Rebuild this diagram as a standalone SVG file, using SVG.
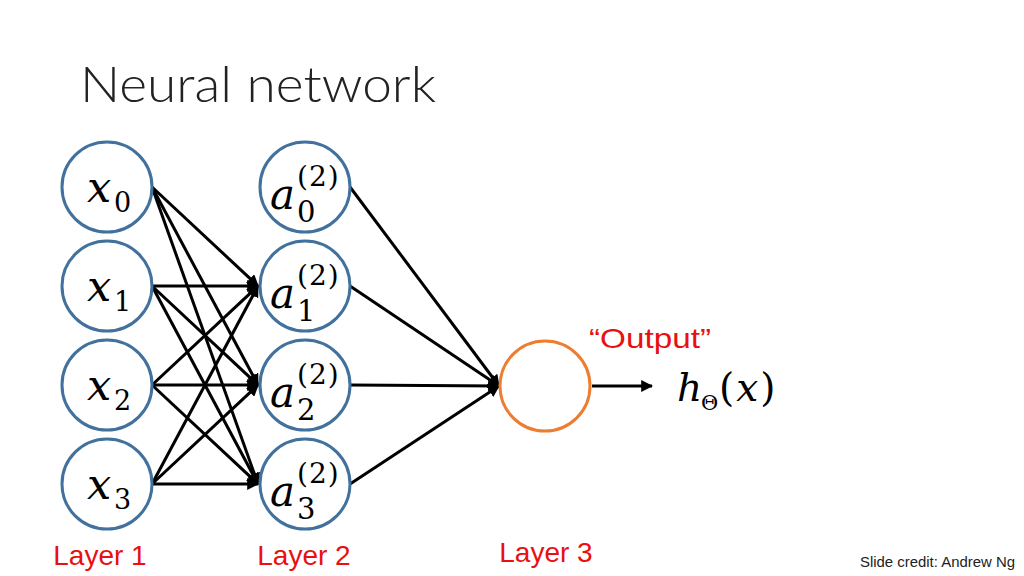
<svg xmlns="http://www.w3.org/2000/svg" width="1024" height="576" viewBox="0 0 1024 576">
<style>
.n{fill:#fff;stroke:#41719C;stroke-width:3}
.o{fill:#fff;stroke:#ED7D31;stroke-width:3}
.m{font-family:"DejaVu Serif","Liberation Serif",serif;font-style:italic;fill:#000}
.r{font-family:"DejaVu Serif","Liberation Serif",serif;fill:#000}
.red{font-family:"Liberation Sans",Arial,sans-serif;fill:#E81010;font-size:28px}
.c{stroke:#000;stroke-width:3;fill:none}
</style>
<defs>
<marker id="ah" viewBox="0 0 10 10" refX="9" refY="5" markerWidth="4" markerHeight="4" orient="auto" markerUnits="strokeWidth">
<path d="M0,0 L10,5 L0,10 z" fill="#000"/>
</marker>
</defs>
<rect width="1024" height="576" fill="#fff"/>
<text x="80" y="102" font-family="Lato,'Open Sans','Liberation Sans',sans-serif" font-weight="300" font-size="49" textLength="356" lengthAdjust="spacingAndGlyphs" fill="#222">Neural network</text>
<g id="connectors">
<line class="c" x1="152" y1="187" x2="258" y2="286" marker-end="url(#ah)"/>
<line class="c" x1="152" y1="187" x2="258" y2="385" marker-end="url(#ah)"/>
<line class="c" x1="152" y1="187" x2="258" y2="484" marker-end="url(#ah)"/>
<line class="c" x1="152" y1="286" x2="258" y2="286" marker-end="url(#ah)"/>
<line class="c" x1="152" y1="286" x2="258" y2="385" marker-end="url(#ah)"/>
<line class="c" x1="152" y1="286" x2="258" y2="484" marker-end="url(#ah)"/>
<line class="c" x1="152" y1="385" x2="258" y2="286" marker-end="url(#ah)"/>
<line class="c" x1="152" y1="385" x2="258" y2="385" marker-end="url(#ah)"/>
<line class="c" x1="152" y1="385" x2="258" y2="484" marker-end="url(#ah)"/>
<line class="c" x1="152" y1="484" x2="258" y2="286" marker-end="url(#ah)"/>
<line class="c" x1="152" y1="484" x2="258" y2="385" marker-end="url(#ah)"/>
<line class="c" x1="152" y1="484" x2="258" y2="484" marker-end="url(#ah)"/>
<line class="c" x1="350" y1="187" x2="499" y2="386" marker-end="url(#ah)"/>
<line class="c" x1="350" y1="286" x2="499" y2="386" marker-end="url(#ah)"/>
<line class="c" x1="350" y1="385" x2="499" y2="386" marker-end="url(#ah)"/>
<line class="c" x1="350" y1="484" x2="499" y2="386" marker-end="url(#ah)"/>
<line class="c" x1="592" y1="386" x2="652" y2="386" marker-end="url(#ah)"/>
</g>
<g id="x0"><circle class="n" cx="107" cy="187" r="45"/><text class="m" x="87" y="202" font-size="43">x</text><text class="r" x="114" y="212" font-size="27">0</text></g>
<g id="x1"><circle class="n" cx="107" cy="286" r="45"/><text class="m" x="87" y="301" font-size="43">x</text><text class="r" x="114" y="311" font-size="27">1</text></g>
<g id="x2"><circle class="n" cx="107" cy="385" r="45"/><text class="m" x="87" y="400" font-size="43">x</text><text class="r" x="114" y="410" font-size="27">2</text></g>
<g id="x3"><circle class="n" cx="107" cy="484" r="45"/><text class="m" x="87" y="499" font-size="43">x</text><text class="r" x="114" y="509" font-size="27">3</text></g>
<g id="a0"><circle class="n" cx="305" cy="187" r="45"/><text class="m" x="270" y="209" font-size="42">a</text><text class="r" x="297" y="186" font-size="28" letter-spacing="1">(2)</text><text class="r" x="297" y="222" font-size="29">0</text></g>
<g id="a1"><circle class="n" cx="305" cy="286" r="45"/><text class="m" x="270" y="308" font-size="42">a</text><text class="r" x="297" y="285" font-size="28" letter-spacing="1">(2)</text><text class="r" x="297" y="321" font-size="29">1</text></g>
<g id="a2"><circle class="n" cx="305" cy="385" r="45"/><text class="m" x="270" y="407" font-size="42">a</text><text class="r" x="297" y="384" font-size="28" letter-spacing="1">(2)</text><text class="r" x="297" y="420" font-size="29">2</text></g>
<g id="a3"><circle class="n" cx="305" cy="484" r="45"/><text class="m" x="270" y="506" font-size="42">a</text><text class="r" x="297" y="483" font-size="28" letter-spacing="1">(2)</text><text class="r" x="297" y="519" font-size="29">3</text></g>
<g id="out"><circle class="o" cx="545" cy="386" r="45"/></g>
<g id="labels">
<text class="red" x="589" y="348" font-size="30" textLength="122" lengthAdjust="spacingAndGlyphs">“Output”</text>
<text class="m" x="677" y="401" font-size="39">h</text><text class="r" x="701" y="410" font-size="21">Θ</text><text class="r" x="719" y="401" font-size="39" letter-spacing="2">(<tspan font-style="italic">x</tspan>)</text>
<text class="red" x="100" y="565" text-anchor="middle">Layer 1</text>
<text class="red" x="304" y="565" text-anchor="middle">Layer 2</text>
<text class="red" x="546" y="562" text-anchor="middle">Layer 3</text>
<text x="860" y="567" font-family="Liberation Sans,Arial,sans-serif" font-size="14" textLength="155" lengthAdjust="spacingAndGlyphs" fill="#222">Slide credit: Andrew Ng</text>
</g>
</svg>
